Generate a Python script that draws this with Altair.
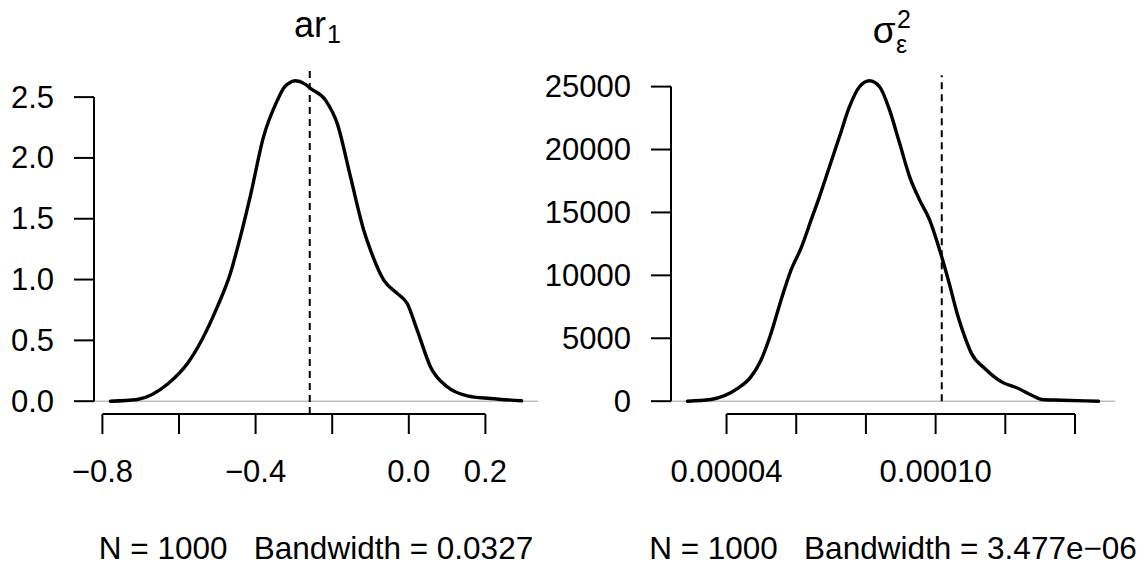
import altair as alt
import pandas as pd

FONT = "Liberation Sans"

# ---- data ----
ar1_x = [-0.779, -0.709, -0.628, -0.578, -0.500, -0.466, -0.442, -0.4135, -0.3795,
         -0.343, -0.3265, -0.309, -0.296, -0.2717, -0.2568, -0.2176, -0.187, -0.1523,
         -0.1176, -0.100, -0.0653, -0.0303, -0.0042, 0.0219, 0.0567, 0.1003, 0.1526,
         0.2134, 0.2944]
ar1_y = [0.0, 0.014, 0.145, 0.309, 0.775, 1.05, 1.324, 1.69, 2.171,
         2.475, 2.575, 2.623, 2.634, 2.609, 2.572, 2.475, 2.284, 1.845,
         1.406, 1.242, 0.995, 0.886, 0.803, 0.584, 0.282, 0.118, 0.044,
         0.022, 0.003]

sig_x = [2.878e-5, 3.548e-5, 4.317e-5, 4.699e-5, 4.987e-5, 5.275e-5, 5.563e-5,
         5.850e-5, 6.138e-5, 6.426e-5, 6.665e-5, 6.953e-5, 7.240e-5,
         7.528e-5, 7.816e-5, 8.104e-5, 8.391e-5, 8.679e-5, 8.967e-5, 9.255e-5,
         9.542e-5, 9.830e-5, 1.0118e-4, 1.0406e-4, 1.062e-4, 1.0837e-4, 1.1030e-4,
         1.1413e-4, 1.1893e-4, 1.2374e-4, 1.2757e-4, 1.3044e-4, 1.3620e-4,
         1.4291e-4, 1.4676e-4]
sig_y = [0, 133, 1010, 1930, 3260, 5380, 8030,
         10415, 12160, 14390, 16240, 18630, 21010,
         23400, 24990, 25460, 24990, 23130, 20490, 17830,
         15980, 14390, 12000, 9200, 6950, 5110, 3790,
         2600, 1535, 1010, 477, 135, 80,
         24, 0]

ar1_mark = -0.2586
sig_mark = 1.0176e-4
sig_mark_top = 25900

ar1_xticks = [-0.8, -0.6, -0.4, -0.2, 0.0, 0.2]
ar1_xlabels = ["\u22120.8", "\u22120.4", "0.0", "0.2"]
ar1_yticks = [0.0, 0.5, 1.0, 1.5, 2.0, 2.5]
sig_xticks = [0.00004, 0.00006, 0.00008, 0.00010, 0.00012, 0.00014]
sig_xlabels = ["0.00004", "0.00010"]
sig_yticks = [0, 5000, 10000, 15000, 20000, 25000]

ar1_title = ["ar", "1"]
sig_title = ["\u03c3", "\u03b5", "2"]
ar1_note = ["N = 1000\u00a0\u00a0\u00a0Bandwidth = 0.0327"]
sig_note = ["N = 1000\u00a0\u00a0\u00a0Bandwidth = 3.477e\u221206"]

W, H = 444, 346
FS = 31
TICK = 20


def padded(vals):
    lo, hi = min(vals), max(vals)
    d = (hi - lo) * 0.04
    return [lo - d, hi + d]


def txt(s, x, y, size, align):
    return alt.Chart(pd.DataFrame({"t": [s]})).mark_text(
        font=FONT, fontSize=size, align=align, baseline="alphabetic", color="black"
    ).encode(x=alt.value(x), y=alt.value(y), text="t:N")


def panel(xs, ys, mx, my0, my1, xticks, xlabels, xfmt, yticks, yfmt, title_layers, note):
    xdom = padded(xs)
    ydom = padded(ys)
    sx = alt.Scale(domain=xdom, nice=False, zero=False)
    sy = alt.Scale(domain=ydom, nice=False, zero=False)

    def X(f):
        return alt.X(f, scale=sx, axis=None)

    def Y(f):
        return alt.Y(f, scale=sy, axis=None)

    zero = alt.Chart(pd.DataFrame({"x": [xdom[0]], "x2": [xdom[1]], "y": [0]})).mark_rule(
        color="#BEBEBE", strokeWidth=1.5
    ).encode(x=X("x:Q"), x2="x2:Q", y=Y("y:Q"))

    curve = alt.Chart(pd.DataFrame({"x": xs, "y": ys})).mark_line(
        color="black", strokeWidth=3.4, interpolate="monotone", strokeCap="round", strokeJoin="round"
    ).encode(x=X("x:Q"), y=Y("y:Q"))

    dashed = alt.Chart(pd.DataFrame({"x": [mx], "y": [my0], "y2": [my1]})).mark_rule(
        color="black", strokeWidth=2, strokeDash=[7, 5]
    ).encode(x=X("x:Q"), y=Y("y:Q"), y2="y2:Q")

    # R-style axes: lines from first to last tick, outward ticks, labels
    yline = alt.Chart(pd.DataFrame({"x": [xdom[0]], "y": [yticks[0]], "y2": [yticks[-1]]})).mark_rule(
        color="black", strokeWidth=2
    ).encode(x=X("x:Q"), y=Y("y:Q"), y2="y2:Q")

    xline = alt.Chart(pd.DataFrame({"x": [xticks[0]], "x2": [xticks[-1]], "y": [ydom[0]]})).mark_rule(
        color="black", strokeWidth=2
    ).encode(x=X("x:Q"), x2="x2:Q", y=Y("y:Q"))

    ylab = [format(v, yfmt).replace("-", "\u2212") for v in yticks]
    ytick_df = pd.DataFrame({"v": yticks, "lab": ylab})
    yt = alt.Chart(ytick_df).mark_rule(color="black", strokeWidth=2).encode(
        x=alt.value(-TICK), x2=alt.value(0), y=Y("v:Q"))
    yl = alt.Chart(ytick_df).mark_text(
        font=FONT, fontSize=FS, align="right", baseline="middle", dy=1.5, color="black"
    ).encode(x=alt.value(-2 * TICK), y=Y("v:Q"), text="lab:N")

    xlab = []
    for v in xticks:
        s = format(v, xfmt).replace("-", "\u2212")
        xlab.append(s if s in xlabels else "")
    xtick_df = pd.DataFrame({"v": xticks, "lab": xlab})
    xt = alt.Chart(xtick_df).mark_rule(color="black", strokeWidth=2).encode(
        x=X("v:Q"), y=alt.value(H), y2=alt.value(H + TICK))
    xl = alt.Chart(xtick_df).mark_text(
        font=FONT, fontSize=FS, align="center", baseline="alphabetic", color="black"
    ).encode(x=X("v:Q"), y=alt.value(H + 68), text="lab:N")

    note_layer = txt(note[0], W / 2, 491, 31.5, "center")

    return alt.layer(zero, curve, dashed, xline, yline, yt, yl, xt, xl,
                     *title_layers, note_layer).properties(width=W, height=H)


left = panel(
    ar1_x, ar1_y, ar1_mark, padded(ar1_y)[0], padded(ar1_y)[1],
    ar1_xticks, ar1_xlabels, ".1f", ar1_yticks, ".1f",
    [txt(ar1_title[0], 232, -31, 36, "right"), txt(ar1_title[1], 233, -24.7, 25, "left")],
    ar1_note,
)
right = panel(
    sig_x, sig_y, sig_mark, 0, sig_mark_top,
    sig_xticks, sig_xlabels, ".5f", sig_yticks, "d",
    [txt(sig_title[0], 224.5, -24.7, 37, "right"),
     txt(sig_title[1], 225, -15, 25, "left"),
     txt(sig_title[2], 226, -40, 25, "left")],
    sig_note,
)

chart = alt.hconcat(left, right, spacing=133, bounds="flush").properties(
    padding={"left": 2, "top": 0, "right": 0, "bottom": 0}
).configure_view(stroke=None)

chart.save("out.html", embed_options={"renderer": "svg", "actions": False})
